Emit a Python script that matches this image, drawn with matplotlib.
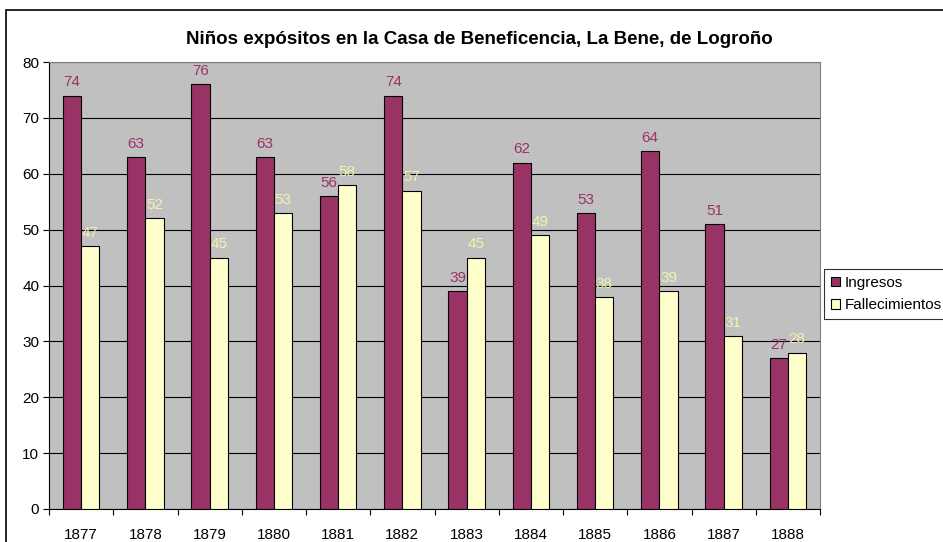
import numpy as np
import matplotlib.pyplot as plt
from matplotlib.patches import Rectangle

plt.rcParams["font.family"] = ["Liberation Sans", "DejaVu Sans"]

years = ['1877', '1878', '1879', '1880', '1881', '1882',
         '1883', '1884', '1885', '1886', '1887', '1888']
ingresos = [74, 63, 76, 63, 56, 74, 39, 62, 53, 64, 51, 27]
fallecimientos = [47, 52, 45, 53, 58, 57, 45, 49, 38, 39, 31, 28]

col1 = '#993366'
col2 = '#FFFFCC'

W, H = 943, 542
fig = plt.figure(figsize=(W / 100, H / 100), dpi=100)
ax = fig.add_axes([49 / W, 1 - 509 / H, (820 - 49) / W, (509 - 62) / H])

# outer chart frame (cut off at right and bottom)
fig.patches.append(Rectangle((6 / W, -0.1), 1.2, 1 - 10 / H + 0.1,
                             transform=fig.transFigure, fill=False,
                             edgecolor='black', linewidth=1.2))

x = np.arange(len(years))
w = 0.285
b1 = ax.bar(x - w / 2, ingresos, w, color=col1, edgecolor='black', linewidth=0.8,
            label='Ingresos', zorder=3)
b2 = ax.bar(x + w / 2, fallecimientos, w, color=col2, edgecolor='black', linewidth=0.8,
            label='Fallecimientos', zorder=3)

for xi, v in zip(x, ingresos):
    ax.text(xi - w / 2, v + 1.1, str(v), ha='center', va='bottom', color=col1, fontsize=11)
for xi, v in zip(x, fallecimientos):
    ax.text(xi + w / 2, v + 1.1, str(v), ha='center', va='bottom', color='#F2F2B0', fontsize=11)

ax.set_facecolor('#C0C0C0')
ax.set_xlim(-0.5, len(years) - 0.5)
ax.set_ylim(0, 80)
ax.set_yticks(range(0, 81, 10))
ax.yaxis.grid(True, color='black', linewidth=0.8, zorder=1)
ax.set_axisbelow(True)

ax.set_xticks(x)
ax.set_xticklabels(years, fontsize=11)
ax.set_xticks(np.arange(-0.5, len(years), 1), minor=True)
ax.tick_params(axis='x', which='major', length=0, pad=14)
ax.tick_params(axis='x', which='minor', length=4, direction='out', width=0.8)
ax.tick_params(axis='y', length=4, direction='out', width=0.8, labelsize=11, pad=3)

for s in ['top', 'right']:
    ax.spines[s].set_color('#808080')
    ax.spines[s].set_linewidth(0.8)
for s in ['left', 'bottom']:
    ax.spines[s].set_color('black')
    ax.spines[s].set_linewidth(0.8)

fig.text(479 / W, 1 - 39 / H, 'Niños expósitos en la Casa de Beneficencia, La Bene, de Logroño',
         ha='center', va='center', fontsize=13.5, fontweight='bold')

leg = fig.legend(handles=[b1, b2], loc='upper left', bbox_to_anchor=(824 / W, 1 - 269 / H),
                 fontsize=11, frameon=True, fancybox=False, edgecolor='black',
                 handlelength=0.6, handleheight=0.6, handletextpad=0.3,
                 borderpad=0.45, labelspacing=0.55, borderaxespad=0)
leg.get_frame().set_linewidth(0.8)

fig.savefig('out.png', dpi=100)
